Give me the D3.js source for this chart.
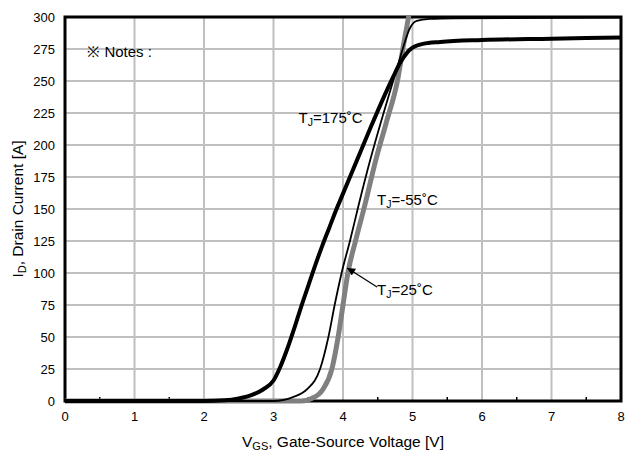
<!DOCTYPE html>
<html>
<head>
<meta charset="utf-8">
<script src="https://cdn.jsdelivr.net/npm/d3@7"></script>
<style>
  body { margin: 0; background: #fff; }
  svg { display: block; font-family: "Liberation Sans", Arial, sans-serif; }
</style>
</head>
<body>
<svg id="chart"></svg>
<script>
// Chart values
const xTicks = [0, 1, 2, 3, 4, 5, 6, 7, 8];
const yTicks = [0, 25, 50, 75, 100, 125, 150, 175, 200, 225, 250, 275, 300];

// TJ = 175 C (thick black)
const v175 = [0, 1, 2, 2.3, 2.5, 2.7, 2.85, 3.0, 3.1, 3.2, 3.3, 3.4, 3.5, 3.6, 3.7, 3.8, 3.9, 4.0, 4.2, 4.4, 4.6, 4.72, 4.82, 4.92, 5.0, 5.15, 5.4, 6, 7, 8];
const i175 = [0, 0, 0, 0.5, 2, 5, 9, 16, 27, 41, 57, 74, 90, 106, 121, 135, 149, 162, 188, 214, 239, 253, 264, 272, 276, 279, 280.5, 282, 283, 284];

// TJ = -55 C (thin black)
const vM55 = [0, 2, 3.0, 3.28, 3.48, 3.67, 3.79, 3.88, 3.98, 4.1, 4.22, 4.4, 4.6, 4.75, 4.87, 4.96, 5.06, 5.25, 5.6, 8];
const iM55 = [0, 0, 0, 3, 9, 25, 50, 75, 100, 125, 152, 190, 228, 255, 277, 291, 297, 298.5, 299, 299.5];

// TJ = 25 C (gray)
const v25 = [0, 2, 3.4, 3.55, 3.71, 3.84, 3.93, 4.0, 4.07, 4.18, 4.3, 4.48, 4.62, 4.79, 4.87, 4.95, 5.02];
const i25 = [0, 0, 0, 2, 9, 25, 50, 75, 100, 125, 150, 190, 217, 252, 278, 302, 325];

const width = 627;
const height = 453;
const margin = { top: 17, right: 6, bottom: 52, left: 65 };

const svg = d3.select("#chart")
  .attr("width", width)
  .attr("height", height);

const x = d3.scaleLinear().domain([0, 8]).range([margin.left, width - margin.right]);
const y = d3.scaleLinear().domain([0, 300]).range([height - margin.bottom, margin.top]);

// Grid
svg.append("g")
  .selectAll("line")
  .data(xTicks.slice(1, -1))
  .enter().append("line")
  .attr("x1", d => x(d)).attr("x2", d => x(d))
  .attr("y1", y(0)).attr("y2", y(300))
  .style("stroke", "#c0c0c0")
  .style("stroke-width", 2);

svg.append("g")
  .selectAll("line")
  .data(yTicks.slice(1, -1))
  .enter().append("line")
  .attr("x1", x(0)).attr("x2", x(8))
  .attr("y1", d => y(d)).attr("y2", d => y(d))
  .style("stroke", "#c0c0c0")
  .style("stroke-width", 2);

// Frame
svg.append("rect")
  .attr("x", x(0)).attr("y", y(300))
  .attr("width", x(8) - x(0)).attr("height", y(0) - y(300))
  .style("fill", "none")
  .style("stroke", "#000")
  .style("stroke-width", 3);

// Minor ticks on the bottom axis
svg.append("g")
  .selectAll("line")
  .data(d3.range(0.5, 8, 1))
  .enter().append("line")
  .attr("x1", d => x(d)).attr("x2", d => x(d))
  .attr("y1", y(0)).attr("y2", y(0) - 4)
  .style("stroke", "#000")
  .style("stroke-width", 1.5);

// Clip curves at the top of the plot
svg.append("clipPath").attr("id", "clip")
  .append("rect")
  .attr("x", x(0)).attr("y", y(300) - 1.5)
  .attr("width", x(8) - x(0)).attr("height", y(0) - y(300) + 5);

const line = d3.line()
  .x(d => x(d[0]))
  .y(d => y(d[1]))
  .curve(d3.curveMonotoneX);

const curves = svg.append("g").attr("clip-path", "url(#clip)");

curves.append("path")
  .attr("d", line(d3.zip(v25, i25)))
  .style("fill", "none")
  .style("stroke", "#808080")
  .style("stroke-width", 5);

curves.append("path")
  .attr("d", line(d3.zip(vM55, iM55)))
  .style("fill", "none")
  .style("stroke", "#000")
  .style("stroke-width", 1.8);

curves.append("path")
  .attr("d", line(d3.zip(v175, i175)))
  .style("fill", "none")
  .style("stroke", "#000")
  .style("stroke-width", 4);

// Tick labels
svg.append("g")
  .selectAll("text")
  .data(xTicks)
  .enter().append("text")
  .attr("x", d => x(d))
  .attr("y", y(0) + 20)
  .attr("text-anchor", "middle")
  .style("font-size", "13px")
  .text(d => d);

svg.append("g")
  .selectAll("text")
  .data(yTicks)
  .enter().append("text")
  .attr("x", x(0) - 10)
  .attr("y", d => y(d) + 4.5)
  .attr("text-anchor", "end")
  .style("font-size", "13px")
  .text(d => d);

// Axis titles
const xTitle = svg.append("text")
  .attr("x", (x(0) + x(8)) / 2)
  .attr("y", height - 6)
  .attr("text-anchor", "middle")
  .style("font-size", "15.5px");
xTitle.append("tspan").text("V");
xTitle.append("tspan").attr("dy", 3).style("font-size", "11px").text("GS");
xTitle.append("tspan").attr("dy", -3).text(", Gate-Source Voltage [V]");

const yTitle = svg.append("text")
  .attr("transform", `translate(23, ${(y(0) + y(300)) / 2}) rotate(-90)`)
  .attr("text-anchor", "middle")
  .style("font-size", "15.5px");
yTitle.append("tspan").text("I");
yTitle.append("tspan").attr("dy", 3).style("font-size", "11px").text("D");
yTitle.append("tspan").attr("dy", -3).text(", Drain Current [A]");

// Annotations
svg.append("text")
  .attr("x", x(0.32)).attr("y", y(269))
  .style("font-size", "15px")
  .text("\u203B Notes :");

function tjLabel(v, i, temp) {
  const t = svg.append("text")
    .attr("x", x(v)).attr("y", y(i))
    .style("font-size", "15px");
  t.append("tspan").text("T");
  t.append("tspan").attr("dy", 3).style("font-size", "10.5px").text("J");
  t.append("tspan").attr("dy", -3).text("=" + temp + "\u02DAC");
}

tjLabel(3.36, 217, "175");
tjLabel(4.49, 153, "-55");
tjLabel(4.49, 83, "25");

// Arrow for TJ=25C
svg.append("defs").append("marker")
  .attr("id", "arrow")
  .attr("viewBox", "0 0 10 10")
  .attr("refX", 10).attr("refY", 5)
  .attr("markerWidth", 11).attr("markerHeight", 8)
  .attr("markerUnits", "userSpaceOnUse")
  .attr("orient", "auto")
  .append("path")
  .attr("d", "M0,0 L10,5 L0,10 Z")
  .style("fill", "#000");

svg.append("line")
  .attr("x1", x(4.49)).attr("y1", y(89))
  .attr("x2", x(4.06)).attr("y2", y(104))
  .style("stroke", "#000")
  .style("stroke-width", 1.2)
  .attr("marker-end", "url(#arrow)");
</script>
</body>
</html>
